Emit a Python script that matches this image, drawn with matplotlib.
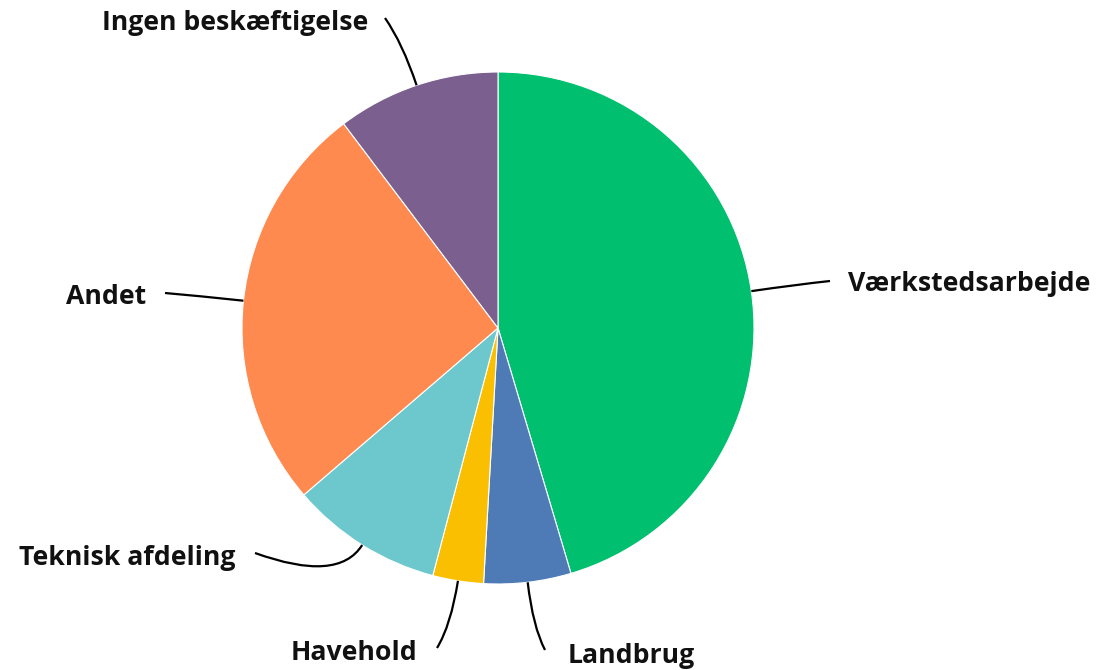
import numpy as np
import matplotlib.pyplot as plt
from matplotlib.path import Path
from matplotlib.patches import PathPatch

labels = ['Værkstedsarbejde', 'Landbrug', 'Havehold', 'Teknisk afdeling', 'Andet', 'Ingen beskæftigelse']
values = [45.4, 5.5, 3.2, 9.6, 26.0, 10.3]
colors = ['#00BF6F', '#4E7BB5', '#F9BF00', '#6CC8CC', '#FF8A50', '#7B5F8E']

W, H = 1098, 670
cx, cy, R = 498, H - 328, 256

# label anchor (end of connector) and text position, in pixels from top-left
label_end = [(830, 281), (545, 650), (437, 648), (255, 553), (165, 293), (385, 18)]
text_pos = [(848, 284), (568, 656), (417, 653), (235, 558), (146, 297), (368, 23)]
text_ha = ['left', 'left', 'right', 'right', 'right', 'right']

plt.rcParams['font.family'] = ['Open Sans', 'DejaVu Sans']

fig = plt.figure(figsize=(W / 100, H / 100), dpi=100)
ax = fig.add_axes([0, 0, 1, 1])
wedges, _ = ax.pie(values, colors=colors, startangle=90, counterclock=False,
                   center=(cx, cy), radius=R,
                   wedgeprops=dict(edgecolor='white', linewidth=0.8))
ax.set_xlim(0, W)
ax.set_ylim(0, H)
ax.set_aspect('equal')
ax.axis('off')

for w, lab, (ex, ey), (tx, ty), ha in zip(wedges, labels, label_end, text_pos, text_ha):
    mid = np.deg2rad((w.theta1 + w.theta2) / 2)
    ux, uy = np.cos(mid), np.sin(mid)
    p0 = (cx + R * ux, cy + R * uy)
    p1 = (cx + (R + 45) * ux, cy + (R + 45) * uy)
    p2 = (ex, H - ey)
    path = Path([p0, p1, p2], [Path.MOVETO, Path.CURVE3, Path.CURVE3])
    ax.add_patch(PathPatch(path, facecolor='none', edgecolor='black', lw=1.6))
    ax.text(tx, H - ty, lab, ha=ha, va='center', fontsize=19.2, fontweight='bold', color='#111111')

fig.savefig('out.png', dpi=100, facecolor='white')
